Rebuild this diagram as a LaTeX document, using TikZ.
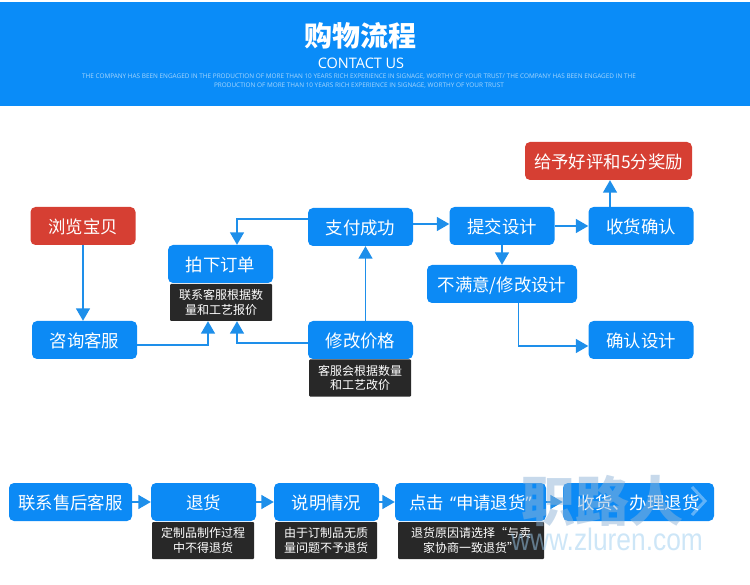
\documentclass[tikz,border=0pt]{standalone}
\usepackage{fontspec}
\usepackage{xcolor}
\usetikzlibrary{arrows.meta}
\setmainfont{Open Sans}
\newfontfamily\cjk{Noto Sans CJK SC}
\newfontfamily\markfont[FakeStretch=0.85]{Liberation Sans}
\definecolor{bannerblue}{HTML}{0A8CF8}
\definecolor{stepblue}{HTML}{0C8AF5}
\definecolor{linkblue}{HTML}{1E8FEA}
\definecolor{stepred}{HTML}{D63F33}
\definecolor{noteblack}{HTML}{282828}
\definecolor{markblue}{HTML}{8FB4D8}
\definecolor{urlblue}{HTML}{9CCDF0}

\begin{document}
\begin{tikzpicture}[x=1pt, y=-1pt, >={Triangle[length=12.5pt,width=14pt]},
    stepbox/.style={fill=stepblue, rounded corners=5pt, text=white, font=\cjk\fontsize{17.4}{20}\selectfont,
        minimum height=38pt, minimum width=105pt, inner sep=0pt, text height=17pt, text depth=2pt},
    redbox/.style={stepbox, fill=stepred},
    notebox/.style={fill=noteblack, rounded corners=1pt, text=white, font=\cjk\fontsize{12}{14.5}\selectfont,
        minimum height=37pt, minimum width=102pt, inner sep=0pt, align=center},
    link/.style={->, linkblue, line width=1.5pt}]

    \useasboundingbox (0,0) rectangle (750,585);

    % The banner
    \fill[bannerblue] (0,2) rectangle (750,106);
    \node[text=white, font=\cjk\bfseries\fontsize{28}{30}\selectfont] (title) at (360,36) {购物流程};
    \node[text=white, font=\fontsize{14.5}{16}\selectfont] (contact) at (361,63) {CONTACT US};
    \node[text=white!65!bannerblue, font=\fontsize{6.4}{9}\selectfont, align=center] (blurb) at (359,81)
        {THE COMPANY HAS BEEN ENGAGED IN THE PRODUCTION OF MORE THAN 10 YEARS RICH EXPERIENCE IN SIGNAGE, WORTHY OF YOUR TRUST/ THE COMPANY HAS BEEN ENGAGED IN THE\\
        PRODUCTION OF MORE THAN 10 YEARS RICH EXPERIENCE IN SIGNAGE, WORTHY OF YOUR TRUST};

    % The order steps
    \node[redbox] (browse) at (83,226) {浏览宝贝};
    \node[stepbox] (consult) at (84.5,340) {咨询客服};
    \node[stepbox] (order) at (220.5,264) {拍下订单};
    \node[notebox] (quote) at (221,302.5) {联系客服根据数\\量和工艺报价};
    \node[stepbox] (paid) at (360.5,227) {支付成功};
    \node[stepbox] (reprice) at (360.5,340) {修改价格};
    \node[notebox] (repricenote) at (360,378) {客服会根据数量\\和工艺改价};
    \node[stepbox] (submit) at (502,226) {提交设计};
    \node[stepbox] (receipt) at (641,226) {收货确认};
    \node[redbox, minimum width=167pt] (reward) at (608.5,161) {给予好评和5分奖励};
    \node[stepbox, minimum width=150pt] (revise) at (502,284) {不满意/修改设计};
    \node[stepbox] (confirm) at (641,340) {确认设计};

    % The return steps
    \node[stepbox, minimum width=123pt] (service) at (70.5,502) {联系售后客服};
    \node[stepbox] (refund) at (203.5,502) {退货};
    \node[notebox] (refundnote) at (203,540.5) {定制品制作过程\\中不得退货};
    \node[stepbox] (explain) at (326.5,502) {说明情况};
    \node[notebox] (explainnote) at (326,540.5) {由于订制品无质\\量问题不予退货};
    \node[stepbox, minimum width=151pt] (apply) at (470.5,502) {点击\hspace{6pt}{\rmfamily “}申请退货{\rmfamily ”}};
    \node[notebox, minimum width=146pt] (applynote) at (471,540.5) {退货原因请选择“与卖\\家协商一致退货”};
    \node[stepbox, minimum width=151pt] (handle) at (638.5,502) {收货、办理退货};

    % Connectors of the order steps
    \draw[link] (browse.south) -- (browse.south |- consult.north);
    \draw[link] ([yshift=-5pt]consult.east) -| ([xshift=-13pt]quote.south);
    \draw[link] ([yshift=-3pt]reprice.west) -| ([xshift=16pt]quote.south);
    \draw[link] ([yshift=8pt]paid.west) -| ([xshift=16.5pt]order.north);
    \draw[link] ([xshift=5pt]reprice.north) -- ([xshift=5pt]paid.south);
    \draw[link] ([yshift=3pt]paid.east) -- ([yshift=2pt]submit.west);
    \draw[link] (submit.east) -- (receipt.west);
    \draw[link] ([xshift=-31pt]receipt.north) -- ([xshift=1.5pt]reward.south);
    \draw[link] (submit.south) -- (revise.north);
    \draw[link] ([xshift=16.5pt]revise.south) |- ([yshift=-6pt]confirm.west);

    % Connectors of the return steps
    \draw[link] (service.east) -- (refund.west);
    \draw[link] (refund.east) -- (explain.west);
    \draw[link] (explain.east) -- (apply.west);
    \draw[link] (apply.east) -- (handle.west);

    % The mark across the last steps
    \node[text=urlblue, opacity=0.5, font=\markfont\fontsize{31}{33}\selectfont] (markurl) at (607,539) {www.zluren.com};
    \node[text=markblue, opacity=0.5, font=\cjk\bfseries\fontsize{54}{58}\selectfont] (markname) at (602,501) {职路人};
    \draw[white, opacity=0.35, line width=3pt] (692,487) -- (705,501) -- (692,515);

\end{tikzpicture}
\end{document}
